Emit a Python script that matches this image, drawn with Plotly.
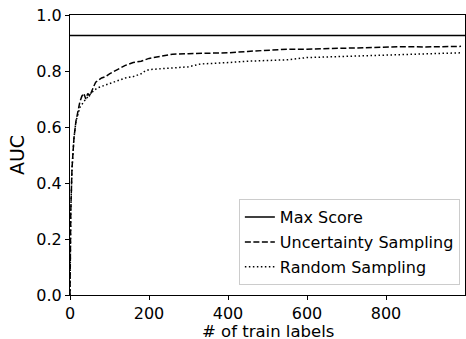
import plotly.graph_objects as go

max_score = 0.927

unc_x = [0, 2, 5, 8, 10, 15, 20, 25, 30, 35, 40, 45, 50, 55, 60, 65, 70, 80, 90, 100, 120, 140, 160, 180, 200, 230, 260, 300, 350, 400, 450, 500, 550, 600, 700, 800, 850, 900, 990]
unc_y = [0.0, 0.3, 0.45, 0.52, 0.56, 0.62, 0.66, 0.69, 0.71, 0.72, 0.70, 0.72, 0.71, 0.73, 0.745, 0.76, 0.765, 0.775, 0.78, 0.79, 0.805, 0.82, 0.83, 0.835, 0.845, 0.852, 0.86, 0.862, 0.864, 0.865, 0.87, 0.875, 0.878, 0.878, 0.882, 0.885, 0.887, 0.886, 0.888]

rnd_x = [0, 2, 5, 8, 10, 15, 20, 25, 30, 40, 50, 60, 70, 80, 100, 120, 140, 160, 180, 190, 200, 250, 300, 330, 350, 400, 450, 500, 550, 600, 650, 700, 800, 900, 990]
rnd_y = [0.0, 0.3, 0.45, 0.52, 0.56, 0.62, 0.65, 0.67, 0.68, 0.70, 0.715, 0.73, 0.74, 0.745, 0.755, 0.765, 0.775, 0.78, 0.79, 0.80, 0.805, 0.81, 0.815, 0.825, 0.826, 0.83, 0.835, 0.838, 0.84, 0.848, 0.85, 0.852, 0.855, 0.86, 0.865]

x_ticks = [0, 200, 400, 600, 800]
y_ticks = [0.0, 0.2, 0.4, 0.6, 0.8, 1.0]

fig = go.Figure()
fig.add_trace(go.Scatter(x=[0, 1000], y=[max_score, max_score], mode="lines",
                         line=dict(color="black", width=1.5), name="Max Score", legendgroup="a"))
fig.add_trace(go.Scatter(x=unc_x, y=unc_y, mode="lines",
                         line=dict(color="black", width=1.5, dash="6px,2.5px"),
                         name="Uncertainty Sampling", legendgroup="b"))
fig.add_trace(go.Scatter(x=rnd_x, y=rnd_y, mode="lines",
                         line=dict(color="black", width=1.5, dash="1.5px,2.5px"),
                         name="Random Sampling", legendgroup="c"))

font = dict(family="DejaVu Sans", size=16, color="black")
fig.update_layout(
    width=466, height=339,
    margin=dict(l=70, r=1, t=15, b=44),
    paper_bgcolor="white", plot_bgcolor="white",
    font=font,
    showlegend=True,
    legend=dict(x=0.987, y=0.035, xanchor="right", yanchor="bottom",
                bgcolor="rgba(255,255,255,0.8)", bordercolor="#cccccc", borderwidth=1,
                font=dict(family="DejaVu Sans", size=16, color="black"),
                tracegroupgap=1),
    xaxis=dict(range=[0, 1000], tickvals=x_ticks, ticktext=[str(v) for v in x_ticks],
               showgrid=False, zeroline=False, showline=True, linecolor="black", linewidth=1,
               mirror=True, ticks="outside", ticklen=4, tickcolor="black", automargin=False),
    yaxis=dict(range=[0, 1.0], tickvals=y_ticks, ticktext=[f"{v:.1f}" for v in y_ticks],
               showgrid=False, zeroline=False, showline=True, linecolor="black", linewidth=1,
               mirror=True, ticks="outside", ticklen=4, tickcolor="black", automargin=False,
               title=dict(text="AUC", standoff=6)),
    annotations=[dict(text="# of train labels", xref="paper", yref="paper",
                      x=0.5, y=-0.129, xanchor="center", yanchor="middle",
                      showarrow=False, font=dict(family="DejaVu Sans", size=16.5, color="black"))],
)
fig.write_html("out.html", config={"displayModeBar": False},
               post_script="document.body.style.margin='0';document.body.style.overflow='hidden';")
